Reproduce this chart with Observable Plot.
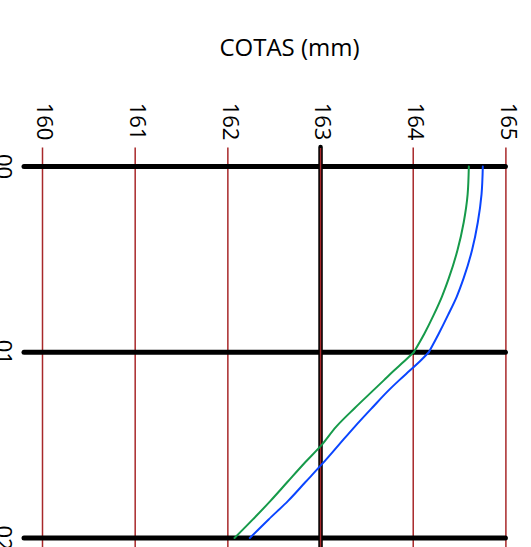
<!DOCTYPE html>
<html>
<head>
<meta charset="utf-8">
<script src="https://cdn.jsdelivr.net/npm/d3@7"></script>
<script src="https://cdn.jsdelivr.net/npm/@observablehq/plot@0.6"></script>
<style>
  body { margin: 0; background: #fff; }
  #chart { width: 531px; height: 547px; overflow: hidden; }
</style>
</head>
<body>
<div id="chart"></div>
<script>
const title = "COTAS (mm)";
const xTicks = [160, 161, 162, 163, 164, 165];
const yTicks = [0, 1, 2];
const yTickLabels = ["00", "01", "02"];
const refValue = [163];

const greenY = [0, 0.15, 0.3, 0.45, 0.6, 0.7, 0.8, 0.9, 1.0, 1.05, 1.1, 1.15, 1.2, 1.3, 1.4, 1.5, 1.6, 1.7, 1.8, 1.9, 2.0];
const greenX = [164.600, 164.587, 164.545, 164.478, 164.385, 164.310, 164.220, 164.120, 164.006, 163.900, 163.790, 163.685, 163.580, 163.370, 163.170, 163.010, 162.820, 162.640, 162.460, 162.270, 162.072];

const blueY = [0, 0.15, 0.3, 0.45, 0.6, 0.7, 0.8, 0.9, 1.0, 1.05, 1.1, 1.15, 1.2, 1.3, 1.4, 1.5, 1.6, 1.7, 1.8, 1.9, 2.0];
const blueX = [164.751, 164.737, 164.697, 164.635, 164.545, 164.470, 164.375, 164.275, 164.168, 164.070, 163.960, 163.850, 163.745, 163.555, 163.370, 163.195, 163.020, 162.835, 162.650, 162.440, 162.237];

// split each series at the 01 line, where the curves bend
function segments(xs, ys) {
  const out = [];
  ys.forEach((y, i) => {
    if (y <= 1) out.push({x: xs[i], y, seg: "a"});
    if (y >= 1) out.push({x: xs[i], y, seg: "b"});
  });
  return out;
}
const green = segments(greenX, greenY);
const blue = segments(blueX, blueY);

const gridRed = "#a8282a";
const font = "'Open Sans', sans-serif";

const chart = Plot.plot({
  width: 531,
  height: 547,
  marginLeft: 42,
  marginRight: 25.6,
  marginTop: 166,
  marginBottom: 9.5,
  x: {domain: [160, 165], axis: null},
  y: {domain: [0, 2], reverse: true, axis: null},
  style: {fontFamily: font, background: "white", color: "black"},
  marks: [
    Plot.ruleX(xTicks, {stroke: gridRed, strokeWidth: 1.5, insetTop: -18.5, insetBottom: -20}),
    Plot.ruleY(yTicks, {stroke: "black", strokeWidth: 5, strokeLinecap: "round", insetLeft: -18, insetRight: 0}),
    Plot.ruleX(refValue, {stroke: "black", strokeWidth: 4.5, strokeLinecap: "round", insetTop: -19, insetBottom: -20}),
    Plot.ruleX(refValue, {stroke: gridRed, strokeWidth: 1.4, insetTop: -18, insetBottom: -20}),
    Plot.line(green, {x: "x", y: "y", z: "seg", stroke: "#169a4a", strokeWidth: 2, curve: "monotone-y"}),
    Plot.line(blue, {x: "x", y: "y", z: "seg", stroke: "#0a45ff", strokeWidth: 2, curve: "monotone-y"}),
    Plot.text(xTicks, {x: d => d, text: d => String(d), frameAnchor: "top", textAnchor: "middle", lineAnchor: "middle", dx: 2, dy: -45, rotate: 90, fontSize: 22, fill: "black"}),
    Plot.text(yTicks, {y: d => d, text: (d, i) => yTickLabels[i], frameAnchor: "left", textAnchor: "middle", lineAnchor: "middle", dx: -39, rotate: 90, fontSize: 22, fill: "black"}),
    Plot.text([title], {text: d => d, frameAnchor: "top", textAnchor: "middle", lineAnchor: "middle", dx: 15.3, dy: -118.6, fontSize: 24, fill: "black"})
  ]
});
document.getElementById("chart").appendChild(chart);
</script>
</body>
</html>
